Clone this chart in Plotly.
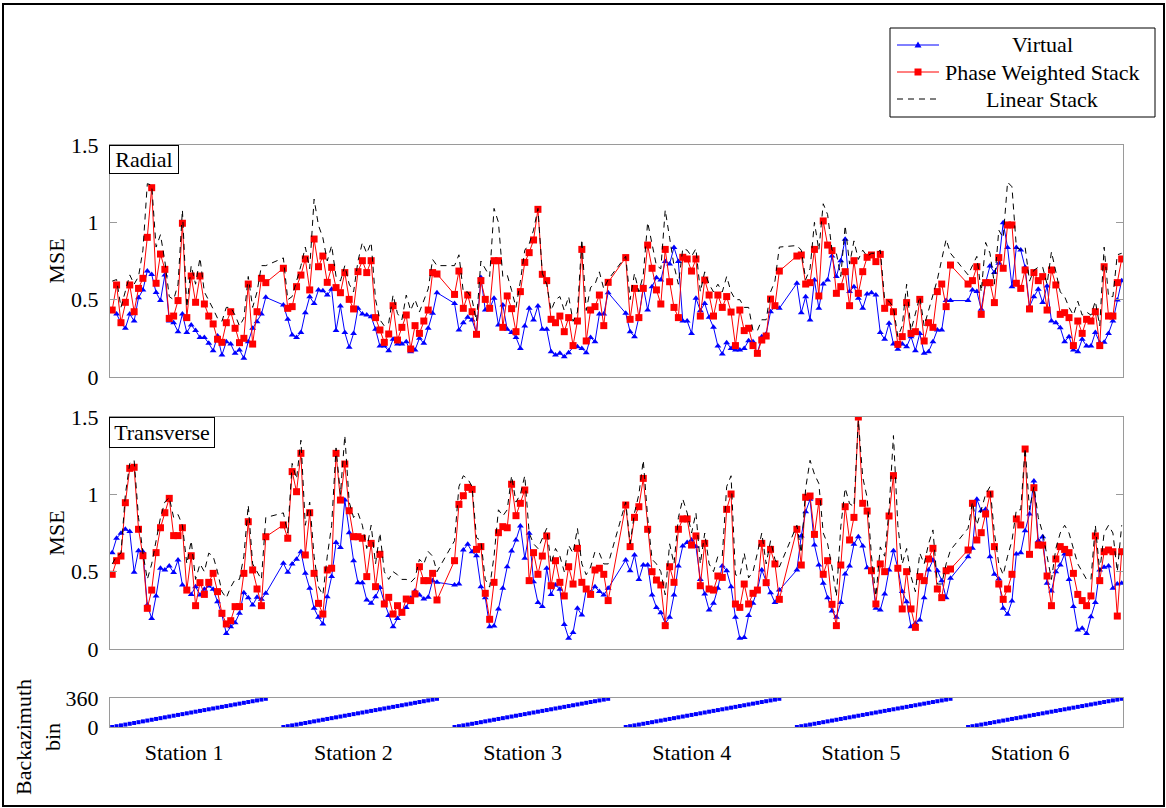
import plotly.graph_objects as go

# ---------------- data ----------------
station_names = ["Station 1", "Station 2", "Station 3", "Station 4", "Station 5", "Station 6"]
baz_bins = [0, 10, 20, 30, 40, 50, 60, 70, 80, 90, 100, 110, 120, 130, 140, 150, 160, 170,
            180, 190, 200, 210, 220, 230, 240, 250, 260, 270, 280, 290, 300, 310, 320, 330, 340, 350]
series_names = ["Virtual", "Phase Weighted Stack", "Linear Stack"]

radial_virtual = [
    [0.429,0.407,0.351,0.315,0.407,0.362,0.513,0.563,0.685,0.662,0.547,0.494,0.66,0.362,0.351,0.293,0.407,0.287,0.336,0.3,0.256,0.256,0.218,0.17,0.265,0.142,0.228,0.213,0.153,0.175,0.121,0.228,0.315,0.358,0.407,0.515],
    [0.466,0.373,0.272,0.256,0.287,0.416,0.519,0.476,0.563,0.558,0.53,0.567,0.3,0.459,0.287,0.192,0.282,0.444,0.407,0.401,0.39,0.308,0.2,0.2,0.17,0.244,0.213,0.213,0.228,0.164,0.175,0.25,0.218,0.315,0.412,0.545],
    [0.476,0.304,0.351,0.386,0.369,0.282,0.644,0.433,0.444,0.509,0.336,0.466,0.308,0.287,0.256,0.185,0.33,0.444,0.369,0.459,0.308,0.308,0.164,0.142,0.153,0.131,0.157,0.192,0.196,0.185,0.157,0.256,0.228,0.407,0.407,0.545],
    [0.412,0.293,0.261,0.386,0.584,0.433,0.584,0.642,0.627,0.746,0.731,0.838,0.746,0.362,0.362,0.282,0.509,0.429,0.476,0.386,0.321,0.2,0.149,0.222,0.185,0.175,0.175,0.185,0.235,0.228,0.153,0.261,0.278,0.422,0.459,0.444],
    [0.606,0.416,0.519,0.369,0.627,0.444,0.601,0.627,0.782,0.649,0.752,0.89,0.552,0.584,0.509,0.444,0.537,0.545,0.53,0.287,0.244,0.347,0.213,0.179,0.213,0.196,0.261,0.17,0.282,0.153,0.164,0.228,0.304,0.304,0.494,0.494],
    [0.494,0.563,0.552,0.438,0.61,0.718,0.675,0.735,0.998,0.838,0.584,0.838,0.821,0.709,0.455,0.519,0.567,0.481,0.588,0.362,0.351,0.319,0.228,0.261,0.175,0.164,0.244,0.2,0.2,0.287,0.222,0.224,0.282,0.362,0.498,0.623],
]
radial_pws = [
    [0.433,0.595,0.351,0.483,0.595,0.422,0.573,0.638,0.903,1.224,0.606,0.795,0.696,0.379,0.394,0.494,0.994,0.384,0.653,0.483,0.653,0.472,0.394,0.343,0.244,0.224,0.351,0.422,0.315,0.222,0.25,0.601,0.213,0.422,0.638,0.61],
    [0.703,0.444,0.455,0.584,0.659,0.763,0.563,0.892,0.713,0.782,0.612,0.709,0.578,0.545,0.675,0.502,0.44,0.681,0.752,0.675,0.752,0.384,0.304,0.224,0.278,0.461,0.239,0.321,0.401,0.181,0.332,0.282,0.362,0.433,0.675,0.666],
    [0.534,0.685,0.444,0.53,0.422,0.276,0.623,0.502,0.444,0.752,0.752,0.321,0.524,0.442,0.293,0.552,0.741,0.804,0.886,1.084,0.664,0.623,0.373,0.351,0.394,0.293,0.384,0.203,0.362,0.825,0.233,0.433,0.455,0.53,0.332,0.612],
    [0.772,0.373,0.573,0.384,0.573,0.853,0.703,0.563,0.472,0.825,0.616,0.45,0.384,0.774,0.763,0.685,0.763,0.394,0.627,0.53,0.394,0.53,0.45,0.52,0.42,0.203,0.433,0.3,0.315,0.203,0.153,0.239,0.265,0.504,0.461,0.685],
    [0.782,0.789,0.601,0.61,0.825,0.524,1.009,0.853,0.817,0.541,0.584,0.681,0.461,0.752,0.541,0.681,0.774,0.789,0.746,0.793,0.444,0.483,0.422,0.211,0.261,0.481,0.282,0.293,0.502,0.233,0.351,0.321,0.552,0.601,0.455,0.724],
    [0.601,0.623,0.713,0.405,0.61,0.61,0.481,0.772,0.703,0.983,0.983,0.606,0.573,0.692,0.44,0.675,0.623,0.649,0.433,0.692,0.595,0.405,0.416,0.384,0.203,0.362,0.282,0.373,0.362,0.422,0.203,0.713,0.394,0.394,0.61,0.763],
]
radial_linear = [
    [0.62,0.63,0.45,0.55,0.66,0.6,0.65,0.82,1.25,1.24,0.84,0.92,0.75,0.52,0.5,0.6,1.08,0.45,0.72,0.6,0.77,0.55,0.5,0.44,0.38,0.36,0.45,0.45,0.4,0.33,0.38,0.65,0.45,0.55,0.72,0.72],
    [0.77,0.5,0.52,0.62,0.72,0.84,0.7,1.15,0.98,0.9,0.75,0.85,0.65,0.62,0.72,0.6,0.55,0.75,0.87,0.8,0.87,0.5,0.37,0.33,0.35,0.53,0.41,0.37,0.53,0.43,0.5,0.42,0.49,0.57,0.76,0.72],
    [0.72,0.79,0.55,0.55,0.5,0.36,0.75,0.7,0.65,1.09,1.0,0.65,0.66,0.56,0.45,0.62,0.82,0.86,0.95,1.09,0.67,0.6,0.43,0.5,0.52,0.43,0.52,0.36,0.42,0.89,0.43,0.58,0.6,0.68,0.57,0.63],
    [0.78,0.5,0.67,0.55,0.66,1.0,0.85,0.72,0.7,1.08,0.9,0.72,0.6,0.83,0.82,0.78,0.83,0.55,0.68,0.6,0.55,0.6,0.55,0.65,0.55,0.5,0.5,0.45,0.45,0.3,0.3,0.37,0.37,0.55,0.62,0.84],
    [0.85,0.82,0.63,0.7,1.0,0.82,1.12,1.05,0.82,0.8,0.65,0.98,0.73,0.88,0.76,0.82,0.78,0.8,0.8,0.82,0.5,0.49,0.45,0.26,0.33,0.6,0.3,0.41,0.52,0.33,0.43,0.54,0.63,0.76,0.89,0.8],
    [0.66,0.72,0.78,0.55,0.87,0.8,0.6,0.95,0.9,1.26,1.23,0.84,0.82,0.84,0.62,0.69,0.71,0.71,0.6,0.81,0.68,0.55,0.52,0.45,0.4,0.49,0.4,0.42,0.4,0.49,0.33,0.84,0.52,0.52,0.79,0.8],
]
transverse_virtual = [
    [0.623,0.716,0.748,0.774,0.759,0.496,0.636,0.629,0.284,0.198,0.343,0.522,0.511,0.537,0.494,0.575,0.414,0.388,0.353,0.403,0.349,0.386,0.407,0.386,0.306,0.22,0.101,0.144,0.17,0.231,0.364,0.332,0.284,0.334,0.321,0.36],
    [0.554,0.496,0.55,0.58,0.629,0.489,0.392,0.263,0.205,0.162,0.338,0.468,0.688,0.657,0.963,0.752,0.571,0.429,0.429,0.317,0.295,0.338,0.397,0.302,0.216,0.144,0.198,0.231,0.269,0.328,0.375,0.349,0.323,0.334,0.442,0.431],
    [0.414,0.42,0.64,0.677,0.629,0.603,0.403,0.332,0.144,0.149,0.259,0.392,0.532,0.634,0.705,0.795,0.586,0.748,0.435,0.3,0.274,0.522,0.353,0.414,0.386,0.159,0.069,0.106,0.263,0.22,0.386,0.364,0.403,0.371,0.349,0.392],
    [0.575,0.506,0.608,0.45,0.543,0.543,0.349,0.269,0.235,0.166,0.205,0.349,0.537,0.666,0.688,0.705,0.662,0.45,0.356,0.252,0.295,0.392,0.537,0.506,0.403,0.205,0.069,0.075,0.216,0.295,0.381,0.511,0.431,0.364,0.3,0.381],
    [0.511,0.731,0.888,0.968,0.672,0.543,0.425,0.332,0.246,0.205,0.3,0.485,0.537,0.677,0.726,0.666,0.526,0.515,0.263,0.252,0.356,0.511,0.636,0.522,0.371,0.306,0.144,0.166,0.188,0.332,0.511,0.575,0.506,0.442,0.332,0.457],
    [0.597,0.651,0.968,0.894,0.903,0.597,0.483,0.453,0.263,0.224,0.31,0.614,0.623,0.765,0.873,1.086,0.7,0.726,0.425,0.375,0.5,0.543,0.614,0.45,0.274,0.123,0.134,0.101,0.209,0.3,0.511,0.528,0.537,0.392,0.42,0.425],
]
transverse_pws = [
    [0.483,0.571,0.601,0.946,1.168,1.175,0.774,0.603,0.263,0.381,0.623,0.784,0.881,0.974,0.733,0.733,0.784,0.381,0.603,0.28,0.429,0.353,0.431,0.489,0.371,0.231,0.162,0.183,0.274,0.274,0.489,0.823,0.511,0.388,0.28,0.726],
    [0.802,0.716,1.147,1.017,1.265,0.608,0.881,0.489,0.295,0.226,0.511,0.522,1.265,0.963,1.196,0.894,0.726,0.726,0.716,0.468,0.683,0.403,0.612,0.291,0.334,0.226,0.28,0.237,0.323,0.313,0.356,0.532,0.442,0.442,0.489,0.317],
    [0.571,0.935,0.991,1.045,1.032,0.644,0.662,0.36,0.192,0.431,0.752,0.791,0.784,1.065,0.862,0.942,1.028,0.442,0.623,0.483,0.601,0.731,0.409,0.571,0.431,0.343,0.532,0.42,0.651,0.431,0.388,0.353,0.511,0.522,0.483,0.313],
    [0.931,0.662,0.851,0.92,1.103,0.774,0.5,0.446,0.414,0.151,0.532,0.431,0.774,0.841,0.841,0.672,0.731,0.409,0.683,0.388,0.381,0.472,0.463,0.903,1.002,0.291,0.269,0.42,0.291,0.36,0.381,0.683,0.429,0.644,0.55,0.321],
    [0.774,0.543,0.981,0.989,0.741,0.953,0.483,0.571,0.289,0.151,0.543,0.92,0.705,0.851,1.5,0.942,0.892,0.506,0.291,0.55,0.5,0.86,1.121,0.522,0.259,0.5,0.259,0.14,0.468,0.442,0.582,0.651,0.388,0.332,0.506,0.517],
    [0.64,0.942,0.705,0.752,0.873,1.002,0.662,0.42,0.321,0.388,0.483,0.841,0.802,1.293,0.612,1.043,0.672,0.672,0.472,0.28,0.582,0.662,0.644,0.623,0.489,0.353,0.313,0.28,0.343,0.731,0.442,0.629,0.64,0.629,0.213,0.629],
]
transverse_linear = [
    [0.55,0.6,0.62,1.0,1.2,1.22,0.85,0.62,0.45,0.55,0.7,0.85,0.95,0.98,0.85,0.87,0.8,0.55,0.7,0.45,0.55,0.5,0.62,0.6,0.5,0.37,0.33,0.4,0.45,0.45,0.6,0.93,0.55,0.5,0.45,0.85],
    [0.88,0.75,1.2,1.1,1.35,0.8,0.95,0.6,0.4,0.35,0.6,0.8,1.3,1.0,1.38,0.95,0.85,0.88,0.8,0.65,0.8,0.55,0.75,0.5,0.45,0.5,0.48,0.45,0.45,0.43,0.46,0.58,0.55,0.63,0.6,0.5],
    [0.7,1.05,1.12,1.1,1.05,0.72,0.7,0.45,0.4,0.6,0.9,0.86,0.9,1.12,0.95,1.0,1.12,0.75,0.68,0.65,0.72,0.78,0.55,0.65,0.6,0.5,0.67,0.62,0.78,0.55,0.48,0.53,0.63,0.62,0.55,0.55],
    [0.95,0.68,0.88,1.0,1.22,0.85,0.58,0.55,0.5,0.35,0.68,0.55,0.85,0.97,0.88,0.75,0.88,0.55,0.75,0.55,0.5,0.6,0.6,1.05,1.12,0.48,0.47,0.62,0.46,0.5,0.62,0.75,0.55,0.7,0.58,0.53],
    [0.8,0.62,1.04,1.22,1.13,1.07,0.75,0.68,0.53,0.34,0.79,1.04,0.94,0.92,1.48,1.11,0.98,0.6,0.34,0.66,0.6,0.9,1.38,0.8,0.55,0.65,0.47,0.37,0.62,0.55,0.68,0.77,0.42,0.42,0.55,0.64],
    [0.78,0.95,0.8,0.9,1.0,1.05,0.75,0.55,0.48,0.6,0.7,0.9,0.9,1.3,0.9,1.05,0.85,0.75,0.6,0.45,0.65,0.75,0.8,0.75,0.65,0.55,0.5,0.45,0.45,0.8,0.5,0.75,0.8,0.75,0.5,0.8],
]
mse_ticks = [0, 0.5, 1, 1.5]
mse_ticktext = ["0", "0.5", "1", "1.5"]
baz_ticks = [0, 360]

# ---------------- layout helpers ----------------
STRIDE = 39          # 36 bins per station + 3 empty slots
FONT = "Liberation Serif"
FS = 22
W, H = 1166, 808
L, R, T, B = 110, 43, 145, 81
PW, PH = W - L - R, H - T - B
DASH = "6px,5px"

def pxx(px):
    return (px - L) / PW

def pxy(py):
    return (H - B - py) / PH

xs = [s * STRIDE + b / 10 for s in range(len(station_names)) for b in baz_bins]

def flat(rows):
    return [v for row in rows for v in row]

fig = go.Figure()

styles = [
    dict(color="blue", symbol="triangle-up", size=6, dash="solid", markers=True),
    dict(color="red", symbol="square", size=7, dash="solid", markers=True),
    dict(color="black", symbol=None, size=0, dash=DASH, markers=False),
]
panels = [("x", "y", [radial_virtual, radial_pws, radial_linear]),
          ("x2", "y2", [transverse_virtual, transverse_pws, transverse_linear])]

for xax, yax, datas in panels:
    for name, st, d in zip(series_names, styles, datas):
        fig.add_trace(go.Scatter(
            x=xs, y=flat(d), name=name, xaxis=xax, yaxis=yax,
            mode="lines+markers" if st["markers"] else "lines",
            line=dict(color=st["color"], width=1, dash=st["dash"]),
            marker=dict(symbol=st["symbol"], size=st["size"], color=st["color"],
                        line=dict(width=0)) if st["markers"] else None,
            showlegend=False, legendgroup=name,
        ))

fig.add_trace(go.Scatter(
    x=xs, y=baz_bins * len(station_names), xaxis="x3", yaxis="y3", name="Backazimuth bin",
    mode="markers", marker=dict(symbol="square", size=4, color="blue", line=dict(width=0)),
    showlegend=False,
))

axcol = "#9a9a9a"
xcommon = dict(range=[-0.5, 230.3], showgrid=False, zeroline=False, showline=True,
               mirror=True, linecolor=axcol, linewidth=1, ticks="", showticklabels=False)
ycommon = dict(showgrid=False, zeroline=False, showline=True, mirror="ticks",
               linecolor=axcol, linewidth=1, ticks="inside", ticklen=7, tickcolor=axcol,
               tickfont=dict(family=FONT, size=FS, color="black"), ticklabelstandoff=6)

d_rad = [pxy(377), pxy(145)]
d_tra = [pxy(649), pxy(417)]
d_baz = [pxy(727), pxy(698)]

# ----- hand-drawn legend (centred labels, like the reference) -----
leg_rows = [45, 72, 99]
shapes = [
    dict(type="rect", xref="paper", yref="paper",
         x0=pxx(3), x1=pxx(1164), y0=pxy(806), y1=pxy(4),
         line=dict(color="black", width=2), layer="below"),
    dict(type="rect", xref="paper", yref="paper",
         x0=pxx(890), x1=pxx(1155), y0=pxy(117), y1=pxy(28),
         line=dict(color="black", width=1), fillcolor="white"),
]
for st, yy in zip(styles, leg_rows):
    shapes.append(dict(type="line", xref="paper", yref="paper",
                       x0=pxx(897), x1=pxx(939), y0=pxy(yy), y1=pxy(yy),
                       line=dict(color=st["color"], width=1,
                                 dash="solid" if st["markers"] else DASH)))
# marker glyphs in legend
tri = "M {} {} L {} {} L {} {} Z".format(pxx(918), pxy(yy := leg_rows[0]) + 3.6 / PH,
                                         pxx(914.5), pxy(leg_rows[0]) - 2.6 / PH,
                                         pxx(921.5), pxy(leg_rows[0]) - 2.6 / PH)
shapes.append(dict(type="path", xref="paper", yref="paper", path=tri,
                   fillcolor="blue", line=dict(color="blue", width=0)))
shapes.append(dict(type="rect", xref="paper", yref="paper",
                   x0=pxx(914.5), x1=pxx(921.5), y0=pxy(leg_rows[1] + 3.5), y1=pxy(leg_rows[1] - 3.5),
                   fillcolor="red", line=dict(color="red", width=0)))

annotations = [
    dict(text="Radial", xref="paper", yref="paper", x=pxx(109), y=pxy(145), xanchor="left",
         yanchor="top", showarrow=False, bordercolor="black", borderwidth=1, borderpad=1,
         width=66, height=25, bgcolor="white", font=dict(family=FONT, size=FS)),
    dict(text="Transverse", xref="paper", yref="paper", x=pxx(109), y=pxy(417), xanchor="left",
         yanchor="top", showarrow=False, bordercolor="black", borderwidth=1, borderpad=1,
         width=102, height=27, bgcolor="white", font=dict(family=FONT, size=FS)),
    dict(text="Backazimuth<br>bin", xref="paper", yref="paper", x=pxx(38), y=pxy(737),
         xanchor="center", yanchor="middle", textangle=-90, showarrow=False,
         font=dict(family=FONT, size=FS)),
]
for name, yy in zip(series_names, leg_rows):
    annotations.append(dict(text=name, xref="paper", yref="paper", x=pxx(1042), y=pxy(yy),
                            xanchor="center", yanchor="middle", showarrow=False,
                            font=dict(family=FONT, size=FS)))

fig.update_layout(
    width=W, height=H, autosize=False,
    margin=dict(l=L, r=R, t=T, b=B, pad=0),
    paper_bgcolor="white", plot_bgcolor="white",
    font=dict(family=FONT, size=FS, color="black"),
    showlegend=False,
    xaxis=dict(**xcommon, anchor="y"),
    xaxis2=dict(**xcommon, anchor="y2", matches="x"),
    xaxis3=dict(**{**xcommon, "showticklabels": True}, anchor="y3", matches="x",
                tickvals=[16.4 + 38.55 * s for s in range(len(station_names))],
                ticktext=station_names, ticklabelstandoff=6,
                tickfont=dict(family=FONT, size=FS, color="black")),
    yaxis=dict(**ycommon, domain=d_rad, anchor="x", range=[0, 1.5],
               tickvals=mse_ticks, ticktext=mse_ticktext,
               title=dict(text="MSE", standoff=0, font=dict(family=FONT, size=FS))),
    yaxis2=dict(**ycommon, domain=d_tra, anchor="x2", range=[0, 1.5],
                tickvals=mse_ticks, ticktext=mse_ticktext,
                title=dict(text="MSE", standoff=0, font=dict(family=FONT, size=FS))),
    yaxis3=dict(**ycommon, domain=d_baz, anchor="x3", range=[0, 360], tickvals=baz_ticks),
    annotations=annotations,
    shapes=shapes,
)

fig.write_html("out.html")
